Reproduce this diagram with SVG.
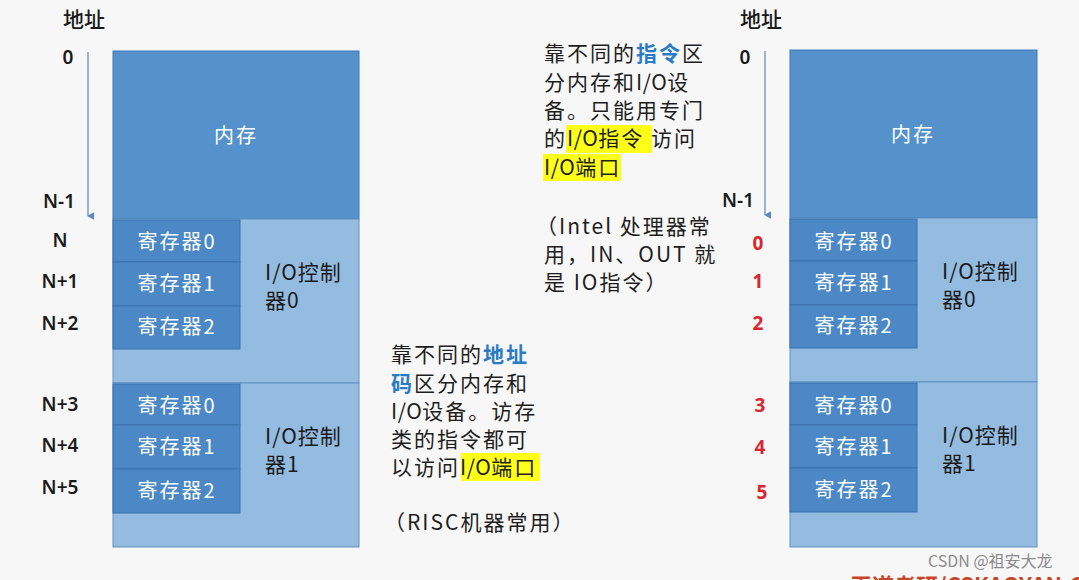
<svg xmlns="http://www.w3.org/2000/svg" width="1079" height="580" viewBox="0 0 1079 580">
<defs>
<marker id="ah" viewBox="0 0 10 10" refX="5" refY="8" markerWidth="8" markerHeight="8" orient="auto-start-reverse" markerUnits="userSpaceOnUse">
<path d="M0,0 L10,0 L5,9 z" fill="#5b86c2"/>
</marker>
<style>
text{font-family:"Noto Sans CJK SC","Noto Sans",sans-serif;}
.mem{fill:#5592cc;stroke:#3f79b3;stroke-width:1;}
.ctl{fill:#94bbe0;stroke:#5f93c4;stroke-width:1;}
.reg{fill:#4b88c5;stroke:#3a73ad;stroke-width:1;}
.w{fill:#ffffff;font-size:20px;letter-spacing:2px;text-anchor:middle;}
.b{fill:#1a1a1a;font-size:21px;letter-spacing:1px;}
.addr{fill:#1a1a1a;font-size:19px;font-weight:600;text-anchor:middle;font-family:"Noto Sans","Open Sans",sans-serif;}
.red{fill:#d8262e;font-size:19px;font-weight:700;text-anchor:middle;font-family:"Noto Sans","Open Sans",sans-serif;}
.t{fill:#1e1e1e;font-size:21px;letter-spacing:2px;}
.io{letter-spacing:0.5px;}
.blue{fill:#2a7bc4;font-weight:700;}
.hl{fill:#ffff1a;}
.arr{stroke:#5b86c2;stroke-width:1.2;fill:none;}
</style>
</defs>
<rect width="1079" height="580" fill="#f7f7f7"/>

<g id="connectors">
<line class="arr" x1="88" y1="52" x2="88" y2="216" marker-end="url(#ah)"/>
<line class="arr" x1="765" y1="51" x2="765" y2="215" marker-end="url(#ah)"/>
</g>

<g id="left-diagram">
<g id="left-mem"><rect class="mem" x="113" y="51" width="246" height="168"/><text class="w" x="236" y="143">内存</text></g>
<g id="left-ctl0"><rect class="ctl" x="113" y="219" width="246" height="164"/><text class="b" x="265" y="280">I/O控制</text><text class="b" x="265" y="308">器0</text></g>
<g id="left-r00"><rect class="reg" x="113" y="220" width="127" height="42"/><text class="w" x="177" y="249">寄存器0</text></g>
<g id="left-r01"><rect class="reg" x="113" y="262" width="127" height="44"/><text class="w" x="177" y="291">寄存器1</text></g>
<g id="left-r02"><rect class="reg" x="113" y="306" width="127" height="43"/><text class="w" x="177" y="334">寄存器2</text></g>
<g id="left-ctl1"><rect class="ctl" x="113" y="383" width="246" height="164"/><text class="b" x="265" y="444">I/O控制</text><text class="b" x="265" y="472">器1</text></g>
<g id="left-r10"><rect class="reg" x="113" y="384" width="127" height="41"/><text class="w" x="177" y="413">寄存器0</text></g>
<g id="left-r11"><rect class="reg" x="113" y="425" width="127" height="44"/><text class="w" x="177" y="454">寄存器1</text></g>
<g id="left-r12"><rect class="reg" x="113" y="469" width="127" height="44"/><text class="w" x="177" y="498">寄存器2</text></g>
</g>

<g id="left-labels">
<text x="63" y="27" style="font-size:21px;font-weight:500;fill:#1a1a1a">地址</text>
<text class="addr" x="68" y="64">0</text>
<text class="addr" x="59" y="208">N-1</text>
<text class="addr" x="60" y="247">N</text>
<text class="addr" x="60" y="288">N+1</text>
<text class="addr" x="60" y="330">N+2</text>
<text class="addr" x="60" y="411">N+3</text>
<text class="addr" x="60" y="452">N+4</text>
<text class="addr" x="60" y="494">N+5</text>
</g>

<g id="right-diagram">
<g id="right-mem"><rect class="mem" x="790" y="50" width="247" height="168"/><text class="w" x="913" y="142">内存</text></g>
<g id="right-ctl0"><rect class="ctl" x="790" y="218" width="247" height="164"/><text class="b" x="942" y="279">I/O控制</text><text class="b" x="942" y="307">器0</text></g>
<g id="right-r00"><rect class="reg" x="790" y="219" width="127" height="42"/><text class="w" x="854" y="249">寄存器0</text></g>
<g id="right-r01"><rect class="reg" x="790" y="261" width="127" height="44"/><text class="w" x="854" y="290">寄存器1</text></g>
<g id="right-r02"><rect class="reg" x="790" y="305" width="127" height="43"/><text class="w" x="854" y="333">寄存器2</text></g>
<g id="right-ctl1"><rect class="ctl" x="790" y="382" width="247" height="165"/><text class="b" x="942" y="443">I/O控制</text><text class="b" x="942" y="471">器1</text></g>
<g id="right-r10"><rect class="reg" x="790" y="383" width="127" height="42"/><text class="w" x="854" y="413">寄存器0</text></g>
<g id="right-r11"><rect class="reg" x="790" y="425" width="127" height="43"/><text class="w" x="854" y="454">寄存器1</text></g>
<g id="right-r12"><rect class="reg" x="790" y="468" width="127" height="44"/><text class="w" x="854" y="497">寄存器2</text></g>
</g>

<g id="right-labels">
<text x="740" y="27" style="font-size:21px;font-weight:500;fill:#1a1a1a">地址</text>
<text class="addr" x="745" y="64">0</text>
<text class="addr" x="738" y="207">N-1</text>
<text class="red" x="758" y="250">0</text>
<text class="red" x="758" y="288">1</text>
<text class="red" x="758" y="330">2</text>
<text class="red" x="760" y="412">3</text>
<text class="red" x="760" y="454">4</text>
<text class="red" x="762" y="499">5</text>
</g>

<g id="note-instruction">
<rect class="hl" x="566" y="125" width="86" height="28"/>
<rect class="hl" x="543" y="154" width="78" height="27"/>
<text class="t" x="544" y="61">靠不同的<tspan class="blue">指令</tspan>区</text>
<text class="t" x="544" y="90">分内存和<tspan class="io">I/O</tspan>设</text>
<text class="t" x="544" y="118">备。只能用专门</text>
<text class="t" x="544" y="146">的<tspan class="io">I/O</tspan>指令 访问</text>
<text class="t" x="544" y="175"><tspan class="io">I/O</tspan>端口</text>
<text class="t" x="536" y="234">（Intel 处理器常</text>
<text class="t" x="544" y="262">用，IN、OUT 就</text>
<text class="t" x="544" y="290">是 IO指令）</text>
</g>

<g id="note-address">
<rect class="hl" x="461" y="453" width="79" height="28"/>
<text class="t" x="391" y="362">靠不同的<tspan class="blue">地址</tspan></text>
<text class="t" x="391" y="391"><tspan class="blue">码</tspan>区分内存和</text>
<text class="t" x="391" y="419"><tspan class="io">I/O</tspan>设备。访存</text>
<text class="t" x="391" y="447">类的指令都可</text>
<text class="t" x="391" y="475">以访问<tspan class="io">I/O</tspan>端口</text>
<text class="t" x="384" y="530">（RISC机器常用）</text>
</g>

<g id="watermark">
<text x="928" y="567" style="font-size:16px;fill:#8c8c8c">CSDN @祖安大龙</text>
<text x="850" y="594" style="font-size:22px;fill:#c8452a;font-weight:700">王道考研/CSKAOYAN.COM</text>
</g>
</svg>
